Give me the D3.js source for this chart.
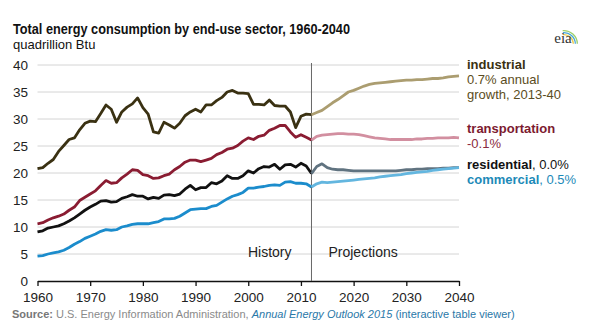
<!DOCTYPE html>
<html lang="en">
<head>
<meta charset="UTF-8">
<title>Total energy consumption by end-use sector</title>
<script src="https://cdnjs.cloudflare.com/ajax/libs/d3/7.9.0/d3.min.js"></script>
<style>
  body { margin: 0; background: #fff; }
  svg { font-family: "Liberation Sans", Arial, sans-serif; }
</style>
</head>
<body>
<div id="chart"></div>
<script>
// history 1960-2012
const histYears = d3.range(1960, 2013);
const industrialHist = [20.8, 21.0, 21.8, 22.5, 24.0, 25.1, 26.2, 26.5, 28.0, 29.2,
  29.6, 29.5, 31.0, 32.6, 31.8, 29.4, 31.3, 32.2, 32.8, 33.9,
  32.1, 30.9, 27.6, 27.4, 29.4, 28.9, 28.3, 29.2, 30.6, 31.3,
  31.8, 31.3, 32.6, 32.6, 33.4, 34.0, 35.0, 35.3, 34.8, 34.8,
  34.7, 32.7, 32.7, 32.6, 33.5, 32.5, 32.4, 32.4, 31.3, 28.4,
  30.5, 30.9, 30.8];
const transportationHist = [10.6, 10.8, 11.3, 11.7, 12.0, 12.4, 13.1, 13.7, 14.9, 15.5,
  16.1, 16.7, 17.7, 18.6, 18.1, 18.2, 19.1, 19.8, 20.6, 20.5,
  19.7, 19.5, 19.0, 19.1, 19.5, 19.8, 20.6, 21.2, 22.0, 22.4,
  22.4, 22.1, 22.4, 22.7, 23.4, 23.8, 24.4, 24.6, 25.1, 25.9,
  26.5, 26.2, 26.8, 27.0, 27.9, 28.3, 28.8, 28.8, 27.6, 26.6,
  27.1, 26.6, 26.1];
const residentialHist = [9.1, 9.3, 9.8, 10.0, 10.2, 10.6, 11.1, 11.7, 12.4, 13.1,
  13.7, 14.2, 14.8, 14.9, 14.6, 14.7, 15.3, 15.6, 16.0, 15.7,
  15.7, 15.2, 15.5, 15.3, 15.9, 16.0, 15.8, 16.1, 17.0, 17.7,
  16.9, 17.3, 17.3, 18.2, 18.0, 18.5, 19.5, 19.0, 19.0, 19.5,
  20.4, 20.0, 20.8, 21.2, 21.1, 21.6, 20.7, 21.5, 21.6, 21.1,
  21.8, 21.3, 19.9];
const commercialHist = [4.6, 4.7, 5.0, 5.2, 5.4, 5.7, 6.2, 6.8, 7.3, 7.9,
  8.3, 8.7, 9.2, 9.5, 9.4, 9.5, 10.0, 10.2, 10.5, 10.6,
  10.6, 10.6, 10.8, 11.0, 11.5, 11.5, 11.6, 12.0, 12.6, 13.2,
  13.3, 13.4, 13.4, 13.8, 14.0, 14.6, 15.2, 15.7, 16.0, 16.4,
  17.2, 17.2, 17.4, 17.5, 17.7, 17.8, 17.7, 18.3, 18.4, 18.1,
  18.1, 18.0, 17.4];

// projections 2012-2040
const projYears = d3.range(2012, 2041);
const industrialProj = [30.8, 31.2, 31.6, 32.3, 33.0, 33.6, 34.3, 35.0, 35.3, 35.7,
  36.1, 36.4, 36.6, 36.7, 36.8, 36.9, 37.0, 37.1, 37.2, 37.2,
  37.3, 37.3, 37.4, 37.5, 37.5, 37.6, 37.8, 37.9, 38.0];
const transportationProj = [26.1, 26.8, 27.0, 27.1, 27.2, 27.3, 27.3, 27.2, 27.2, 27.1,
  26.9, 26.7, 26.5, 26.4, 26.3, 26.2, 26.2, 26.2, 26.2, 26.2,
  26.3, 26.3, 26.4, 26.4, 26.5, 26.5, 26.5, 26.6, 26.5];
const residentialProj = [19.9, 21.2, 21.7, 21.0, 20.7, 20.6, 20.6, 20.5, 20.4, 20.4,
  20.4, 20.4, 20.4, 20.4, 20.4, 20.4, 20.4, 20.5, 20.6, 20.6,
  20.7, 20.7, 20.8, 20.8, 20.8, 20.9, 20.9, 21.0, 21.0];
const commercialProj = [17.4, 18.0, 18.3, 18.2, 18.3, 18.4, 18.5, 18.6, 18.7, 18.8,
  18.9, 19.0, 19.1, 19.3, 19.4, 19.5, 19.6, 19.7, 19.9, 20.0,
  20.1, 20.2, 20.3, 20.5, 20.6, 20.7, 20.8, 20.9, 21.0];

const yTicks = [0, 5, 10, 15, 20, 25, 30, 35, 40];
const xTicks = [1960, 1970, 1980, 1990, 2000, 2010, 2020, 2030, 2040];
const splitYear = 2012;

const series = [
  { hist: industrialHist, proj: industrialProj, histColor: "#3a3112", projColor: "#ab9d70" },
  { hist: transportationHist, proj: transportationProj, histColor: "#8a1c32", projColor: "#d28fa0" },
  { hist: residentialHist, proj: residentialProj, histColor: "#111111", projColor: "#607380" },
  { hist: commercialHist, proj: commercialProj, histColor: "#1b8ccc", projColor: "#63b6df" }
];

const width = 595, height = 335;
const margin = { top: 65, right: 136, bottom: 54, left: 37.5 };

const svg = d3.select("#chart").append("svg")
  .attr("width", width)
  .attr("height", height);

const x = d3.scaleLinear()
  .domain([1960, 2040])
  .range([margin.left, width - margin.right]);

const y = d3.scaleLinear()
  .domain([0, 40])
  .range([height - margin.bottom, margin.top]);

// gridlines
svg.append("g")
  .selectAll("line")
  .data(yTicks.filter(d => d > 0))
  .enter().append("line")
  .attr("x1", x(1960))
  .attr("x2", x(2040))
  .attr("y1", d => y(d))
  .attr("y2", d => y(d))
  .attr("stroke", "#d4d4d4")
  .attr("stroke-width", 1);

// y labels
svg.append("g")
  .selectAll("text")
  .data(yTicks)
  .enter().append("text")
  .attr("x", 28)
  .attr("y", d => y(d) + 5)
  .attr("text-anchor", "end")
  .attr("font-size", 13.5)
  .attr("fill", "#222")
  .text(d => d);

// x axis
const xAxis = svg.append("g")
  .attr("transform", `translate(0,${y(0)})`)
  .call(d3.axisBottom(x).tickValues(xTicks).tickFormat(d3.format("d")).tickSize(5).tickSizeOuter(0));
xAxis.select(".domain").attr("stroke", "#111").attr("stroke-width", 1.3);
xAxis.selectAll(".tick line").attr("stroke", "#111").attr("stroke-width", 1.3);
xAxis.selectAll(".tick text")
  .attr("font-family", "'Liberation Sans', Arial, sans-serif")
  .attr("font-size", 13.5)
  .attr("fill", "#222")
  .attr("dy", "0.95em");

// history / projections divider
svg.append("line")
  .attr("x1", x(splitYear))
  .attr("x2", x(splitYear))
  .attr("y1", y(40) - 2)
  .attr("y2", y(0))
  .attr("stroke", "#666")
  .attr("stroke-width", 1);

svg.append("text")
  .attr("x", x(splitYear) - 20)
  .attr("y", y(4.4))
  .attr("text-anchor", "end")
  .attr("font-size", 14)
  .attr("fill", "#222")
  .text("History");

svg.append("text")
  .attr("x", x(splitYear) + 17)
  .attr("y", y(4.4))
  .attr("font-size", 14)
  .attr("fill", "#222")
  .text("Projections");

// lines
const line = d3.line()
  .x(d => x(d[0]))
  .y(d => y(d[1]));

series.forEach(s => {
  svg.append("path")
    .datum(histYears.map((yr, i) => [yr, s.hist[i]]))
    .attr("fill", "none")
    .attr("stroke", s.histColor)
    .attr("stroke-width", 2.8)
    .attr("stroke-linejoin", "round")
    .attr("d", line);
  svg.append("path")
    .datum(projYears.map((yr, i) => [yr, s.proj[i]]))
    .attr("fill", "none")
    .attr("stroke", s.projColor)
    .attr("stroke-width", 2.8)
    .attr("stroke-linejoin", "round")
    .attr("d", line);
});

// right labels
const lx = 467;
const labels = svg.append("g").attr("font-size", 13);
labels.append("text").attr("x", lx).attr("y", 69).attr("fill", "#3a3112").attr("font-weight", "bold").text("industrial");
labels.append("text").attr("x", lx).attr("y", 84).attr("fill", "#5b4d22").text("0.7% annual");
labels.append("text").attr("x", lx).attr("y", 99).attr("fill", "#5b4d22").text("growth, 2013-40");
labels.append("text").attr("x", lx).attr("y", 133).attr("fill", "#7c1a30").attr("font-weight", "bold").text("transportation");
labels.append("text").attr("x", lx).attr("y", 148).attr("fill", "#8a2a40").text("-0.1%");
const res = labels.append("text").attr("x", lx).attr("y", 169).attr("fill", "#111");
res.append("tspan").attr("font-weight", "bold").text("residential");
res.append("tspan").text(", 0.0%");
const com = labels.append("text").attr("x", lx).attr("y", 184).attr("fill", "#1d8ab8");
com.append("tspan").attr("font-weight", "bold").text("commercial");
com.append("tspan").text(", 0.5%");

// title
svg.append("text")
  .attr("x", 13)
  .attr("y", 34)
  .attr("font-size", 14)
  .attr("font-weight", "bold")
  .attr("fill", "#111")
  .attr("textLength", 337)
  .attr("lengthAdjust", "spacingAndGlyphs")
  .text("Total energy consumption by end-use sector, 1960-2040");
svg.append("text")
  .attr("x", 13)
  .attr("y", 49)
  .attr("font-size", 13)
  .attr("fill", "#111")
  .text("quadrillion Btu");

// source
const src = svg.append("text")
  .attr("x", 12)
  .attr("y", 318)
  .attr("font-size", 11)
  .attr("fill", "#8a8a8a");
src.append("tspan").attr("font-weight", "bold").attr("fill", "#777").text("Source: ");
src.append("tspan").text("U.S. Energy Information Administration, ");
src.append("tspan").attr("font-style", "italic").attr("fill", "#2a78a8").text("Annual Energy Outlook 2015");
src.append("tspan").attr("fill", "#2a78a8").text(" (interactive table viewer)");

// eia logo
const logo = svg.append("g");
const arc = d3.arc();
[["#9ccf6a", 14], ["#4aa8d8", 12], ["#f2c94c", 10]].forEach(([c, r]) => {
  logo.append("path")
    .attr("transform", "translate(564,44)")
    .attr("d", arc({ innerRadius: r - 1.3, outerRadius: r, startAngle: -0.1, endAngle: 1.55 }))
    .attr("fill", c);
});
logo.append("text")
  .attr("x", 563)
  .attr("y", 43)
  .attr("text-anchor", "middle")
  .attr("font-family", "'Liberation Serif', serif")
  .attr("font-size", 15)
  .attr("fill", "#333")
  .text("eia");
</script>
</body>
</html>
